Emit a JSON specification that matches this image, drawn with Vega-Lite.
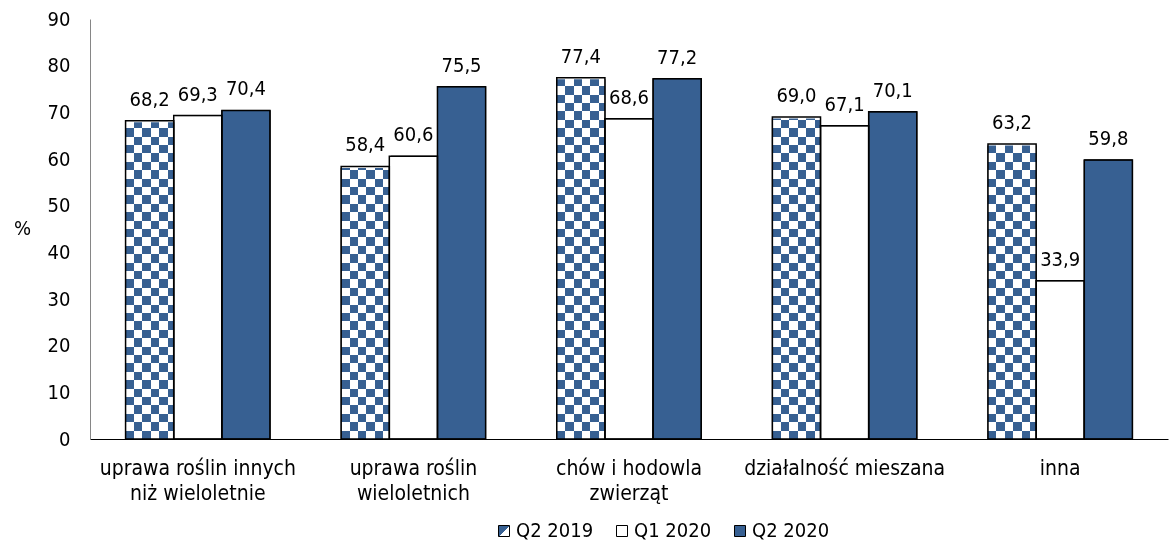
{
  "$schema": "https://vega.github.io/schema/vega-lite/v6.json",
  "width": 1078,
  "height": 420,
  "autosize": {"type": "none"},
  "padding": {"left": 90, "top": 19, "right": 2, "bottom": 103},
  "background": "white",
  "config": {
    "view": {"stroke": null},
    "font": "DejaVu Sans Condensed",
    "locale": {"number": {"decimal": ",", "thousands": " ", "grouping": [3], "currency": ["", " zł"]}}
  },
  "data": {
    "values": [
      {"kategoria": "uprawa roślin innych niż wieloletnie", "okres": "Q2 2019", "wartosc": 68.2},
      {"kategoria": "uprawa roślin innych niż wieloletnie", "okres": "Q1 2020", "wartosc": 69.3},
      {"kategoria": "uprawa roślin innych niż wieloletnie", "okres": "Q2 2020", "wartosc": 70.4},
      {"kategoria": "uprawa roślin wieloletnich", "okres": "Q2 2019", "wartosc": 58.4},
      {"kategoria": "uprawa roślin wieloletnich", "okres": "Q1 2020", "wartosc": 60.6},
      {"kategoria": "uprawa roślin wieloletnich", "okres": "Q2 2020", "wartosc": 75.5},
      {"kategoria": "chów i hodowla zwierząt", "okres": "Q2 2019", "wartosc": 77.4},
      {"kategoria": "chów i hodowla zwierząt", "okres": "Q1 2020", "wartosc": 68.6},
      {"kategoria": "chów i hodowla zwierząt", "okres": "Q2 2020", "wartosc": 77.2},
      {"kategoria": "działalność mieszana", "okres": "Q2 2019", "wartosc": 69.0},
      {"kategoria": "działalność mieszana", "okres": "Q1 2020", "wartosc": 67.1},
      {"kategoria": "działalność mieszana", "okres": "Q2 2020", "wartosc": 70.1},
      {"kategoria": "inna", "okres": "Q2 2019", "wartosc": 63.2},
      {"kategoria": "inna", "okres": "Q1 2020", "wartosc": 33.9},
      {"kategoria": "inna", "okres": "Q2 2020", "wartosc": 59.8}
    ]
  },
  "encoding": {
    "x": {
      "field": "kategoria",
      "type": "nominal",
      "sort": null,
      "scale": {"paddingInner": 0.33, "paddingOuter": 0.165},
      "axis": {
        "title": null,
        "ticks": false,
        "domainColor": "#000000",
        "domainWidth": 1,
        "labelAngle": 0,
        "labelFontSize": 21,
        "labelLimit": 400,
        "labelColor": "#000000",
        "labelPadding": 18,
        "labelLineHeight": 25.5,
        "labelExpr": "datum.value == 'uprawa roślin innych niż wieloletnie' ? ['uprawa roślin innych', 'niż wieloletnie'] : datum.value == 'uprawa roślin wieloletnich' ? ['uprawa roślin', 'wieloletnich'] : datum.value == 'chów i hodowla zwierząt' ? ['chów i hodowla', 'zwierząt'] : datum.value"
      }
    },
    "xOffset": {
      "field": "okres",
      "type": "nominal",
      "sort": null,
      "scale": {"domain": ["Q2 2019", "Q1 2020", "Q2 2020"], "paddingInner": 0, "paddingOuter": 0}
    }
  },
  "layer": [
    {
      "mark": {"type": "bar", "stroke": "#000000", "strokeWidth": 1},
      "encoding": {
        "y": {
          "field": "wartosc",
          "type": "quantitative",
          "scale": {"domain": [0, 90], "nice": false},
          "axis": {
            "values": [0, 10, 20, 30, 40, 50, 60, 70, 80, 90],
            "grid": false,
            "ticks": false,
            "domainColor": "#868686",
            "labelFontSize": 20,
            "labelColor": "#000000",
            "labelPadding": 20,
            "title": "%",
            "titleAngle": 0,
            "titleX": -68,
            "titleY": 209,
            "titleAlign": "center",
            "titleBaseline": "middle",
            "titleFontSize": 20,
            "titleFontWeight": "normal",
            "titleColor": "#000000"
          }
        },
        "color": {
          "field": "okres",
          "type": "nominal",
          "scale": {
            "domain": ["Q2 2019", "Q1 2020", "Q2 2020"],
            "range": [
              {"expr": "{gradient: 'linear', x1: 0, y1: 0, x2: 1, y2: 1, stops: [{offset: 0, color: '#376092'}, {offset: 0.5, color: '#376092'}, {offset: 0.5, color: '#ffffff'}, {offset: 1, color: '#ffffff'}]}"},
              "#ffffff",
              "#376092"
            ]
          },
          "legend": {
            "orient": "none",
            "legendX": 404,
            "legendY": 502,
            "direction": "horizontal",
            "title": null,
            "symbolType": "square",
            "symbolSize": 121,
            "symbolStrokeColor": "#000000",
            "symbolStrokeWidth": 1,
            "symbolOpacity": 1,
            "labelFontSize": 20,
            "labelColor": "#000000",
            "labelOffset": 2,
            "columnPadding": 18
          }
        }
      }
    },
    {
      "transform": [{"filter": "datum.okres === 'Q2 2019'"}],
      "mark": {
        "type": "bar",
        "fill": {
          "gradient": "linear", "x1": 0, "y1": 0, "x2": 1, "y2": 0,
          "stops": [
            {"offset": 0, "color": "#ffffff"}, {"offset": 0.175, "color": "#ffffff"},
            {"offset": 0.175, "color": "#000000"}, {"offset": 0.35, "color": "#000000"},
            {"offset": 0.35, "color": "#ffffff"}, {"offset": 0.525, "color": "#ffffff"},
            {"offset": 0.525, "color": "#000000"}, {"offset": 0.7, "color": "#000000"},
            {"offset": 0.7, "color": "#ffffff"}, {"offset": 0.875, "color": "#ffffff"},
            {"offset": 0.875, "color": "#000000"}, {"offset": 1, "color": "#000000"}
          ]
        }
      },
      "encoding": {
        "y": {"datum": 90, "type": "quantitative"},
        "y2": {"datum": 0}
      }
    },
    {
      "transform": [{"filter": "datum.okres === 'Q2 2019'"}],
      "mark": {
        "type": "bar",
        "blend": "difference",
        "fill": {
          "gradient": "linear", "x1": 0, "y1": 0, "x2": 0, "y2": 1,
          "stops": [
            {"offset": 0.00, "color": "#000000"}, {"offset": 0.02, "color": "#000000"},
            {"offset": 0.02, "color": "#ffffff"}, {"offset": 0.04, "color": "#ffffff"},
            {"offset": 0.04, "color": "#000000"}, {"offset": 0.06, "color": "#000000"},
            {"offset": 0.06, "color": "#ffffff"}, {"offset": 0.08, "color": "#ffffff"},
            {"offset": 0.08, "color": "#000000"}, {"offset": 0.10, "color": "#000000"},
            {"offset": 0.10, "color": "#ffffff"}, {"offset": 0.12, "color": "#ffffff"},
            {"offset": 0.12, "color": "#000000"}, {"offset": 0.14, "color": "#000000"},
            {"offset": 0.14, "color": "#ffffff"}, {"offset": 0.16, "color": "#ffffff"},
            {"offset": 0.16, "color": "#000000"}, {"offset": 0.18, "color": "#000000"},
            {"offset": 0.18, "color": "#ffffff"}, {"offset": 0.20, "color": "#ffffff"},
            {"offset": 0.20, "color": "#000000"}, {"offset": 0.22, "color": "#000000"},
            {"offset": 0.22, "color": "#ffffff"}, {"offset": 0.24, "color": "#ffffff"},
            {"offset": 0.24, "color": "#000000"}, {"offset": 0.26, "color": "#000000"},
            {"offset": 0.26, "color": "#ffffff"}, {"offset": 0.28, "color": "#ffffff"},
            {"offset": 0.28, "color": "#000000"}, {"offset": 0.30, "color": "#000000"},
            {"offset": 0.30, "color": "#ffffff"}, {"offset": 0.32, "color": "#ffffff"},
            {"offset": 0.32, "color": "#000000"}, {"offset": 0.34, "color": "#000000"},
            {"offset": 0.34, "color": "#ffffff"}, {"offset": 0.36, "color": "#ffffff"},
            {"offset": 0.36, "color": "#000000"}, {"offset": 0.38, "color": "#000000"},
            {"offset": 0.38, "color": "#ffffff"}, {"offset": 0.40, "color": "#ffffff"},
            {"offset": 0.40, "color": "#000000"}, {"offset": 0.42, "color": "#000000"},
            {"offset": 0.42, "color": "#ffffff"}, {"offset": 0.44, "color": "#ffffff"},
            {"offset": 0.44, "color": "#000000"}, {"offset": 0.46, "color": "#000000"},
            {"offset": 0.46, "color": "#ffffff"}, {"offset": 0.48, "color": "#ffffff"},
            {"offset": 0.48, "color": "#000000"}, {"offset": 0.50, "color": "#000000"},
            {"offset": 0.50, "color": "#ffffff"}, {"offset": 0.52, "color": "#ffffff"},
            {"offset": 0.52, "color": "#000000"}, {"offset": 0.54, "color": "#000000"},
            {"offset": 0.54, "color": "#ffffff"}, {"offset": 0.56, "color": "#ffffff"},
            {"offset": 0.56, "color": "#000000"}, {"offset": 0.58, "color": "#000000"},
            {"offset": 0.58, "color": "#ffffff"}, {"offset": 0.60, "color": "#ffffff"},
            {"offset": 0.60, "color": "#000000"}, {"offset": 0.62, "color": "#000000"},
            {"offset": 0.62, "color": "#ffffff"}, {"offset": 0.64, "color": "#ffffff"},
            {"offset": 0.64, "color": "#000000"}, {"offset": 0.66, "color": "#000000"},
            {"offset": 0.66, "color": "#ffffff"}, {"offset": 0.68, "color": "#ffffff"},
            {"offset": 0.68, "color": "#000000"}, {"offset": 0.70, "color": "#000000"},
            {"offset": 0.70, "color": "#ffffff"}, {"offset": 0.72, "color": "#ffffff"},
            {"offset": 0.72, "color": "#000000"}, {"offset": 0.74, "color": "#000000"},
            {"offset": 0.74, "color": "#ffffff"}, {"offset": 0.76, "color": "#ffffff"},
            {"offset": 0.76, "color": "#000000"}, {"offset": 0.78, "color": "#000000"},
            {"offset": 0.78, "color": "#ffffff"}, {"offset": 0.80, "color": "#ffffff"},
            {"offset": 0.80, "color": "#000000"}, {"offset": 0.82, "color": "#000000"},
            {"offset": 0.82, "color": "#ffffff"}, {"offset": 0.84, "color": "#ffffff"},
            {"offset": 0.84, "color": "#000000"}, {"offset": 0.86, "color": "#000000"},
            {"offset": 0.86, "color": "#ffffff"}, {"offset": 0.88, "color": "#ffffff"},
            {"offset": 0.88, "color": "#000000"}, {"offset": 0.90, "color": "#000000"},
            {"offset": 0.90, "color": "#ffffff"}, {"offset": 0.92, "color": "#ffffff"},
            {"offset": 0.92, "color": "#000000"}, {"offset": 0.94, "color": "#000000"},
            {"offset": 0.94, "color": "#ffffff"}, {"offset": 0.96, "color": "#ffffff"},
            {"offset": 0.96, "color": "#000000"}, {"offset": 0.98, "color": "#000000"},
            {"offset": 0.98, "color": "#ffffff"}, {"offset": 1.00, "color": "#ffffff"}
          ]
        }
      },
      "encoding": {
        "y": {"datum": 90, "type": "quantitative"},
        "y2": {"datum": 0}
      }
    },
    {
      "transform": [{"filter": "datum.okres === 'Q2 2019'"}],
      "mark": {"type": "bar", "blend": "lighten", "fill": "#376092"},
      "encoding": {
        "y": {"datum": 90, "type": "quantitative"},
        "y2": {"datum": 0}
      }
    },
    {
      "transform": [{"filter": "datum.okres === 'Q2 2019'"}],
      "mark": {"type": "bar", "fill": "#ffffff", "stroke": "#ffffff", "strokeWidth": 3},
      "encoding": {
        "y": {"field": "wartosc", "type": "quantitative"},
        "y2": {"datum": 90}
      }
    },
    {
      "mark": {"type": "bar", "fill": "#ffffff", "fillOpacity": 0, "stroke": "#000000", "strokeWidth": 1.5},
      "encoding": {
        "y": {"field": "wartosc", "type": "quantitative"}
      }
    },
    {
      "mark": {"type": "text", "baseline": "alphabetic", "dy": -15, "fontSize": 20, "color": "#000000"},
      "encoding": {
        "y": {"field": "wartosc", "type": "quantitative"},
        "text": {"field": "wartosc", "type": "quantitative", "format": ".1f"}
      }
    }
  ]
}
